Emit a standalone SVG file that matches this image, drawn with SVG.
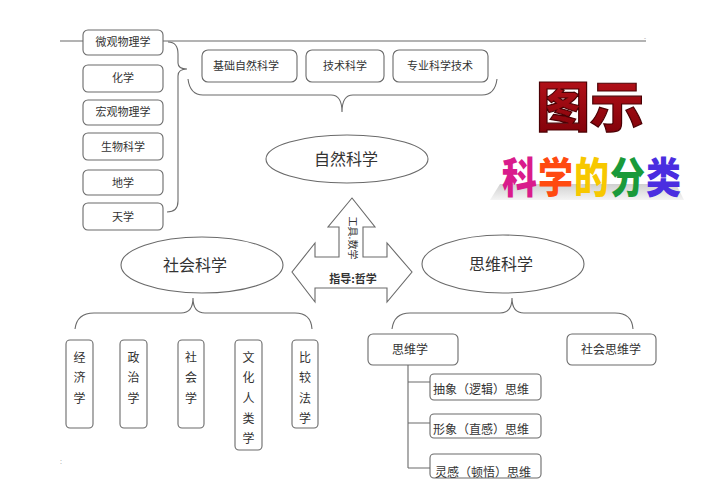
<svg xmlns="http://www.w3.org/2000/svg" width="708" height="500" viewBox="0 0 708 500">
<defs>
<style>
.box{fill:#fff;stroke:#6a6a6a;stroke-width:1.1}
.ln{fill:none;stroke:#6a6a6a;stroke-width:1.1}
.t{font-family:"Noto Sans CJK SC","Liberation Sans",sans-serif;fill:#333;text-anchor:middle}
.s{font-size:11px}
.m{font-size:12px}
.l{font-size:16px}
.rb{font-family:"Noto Sans CJK SC",sans-serif;font-weight:900;font-size:35px}
</style>
<linearGradient id="red" x1="0" y1="0" x2="0" y2="1">
<stop offset="0" stop-color="#c0141c"/>
<stop offset="1" stop-color="#7a0008"/>
</linearGradient>
<linearGradient id="shadow" x1="0" y1="0" x2="0" y2="1">
<stop offset="0" stop-color="#d0d0d0"/>
<stop offset="1" stop-color="#f4f4f4"/>
</linearGradient>
</defs>
<rect width="708" height="500" fill="#fff"/>
<line x1="60" y1="41" x2="646" y2="41" stroke="#9a9a9a" stroke-width="1.5"/>
<text x="644" y="40" style="font-family:'Liberation Sans',sans-serif;font-size:6px;fill:#888">-</text>
<text x="60" y="464" style="font-family:'Liberation Sans',sans-serif;font-size:7px;fill:#888">:</text>

<g id="connectors">
<path class="ln" d="M168,42 Q178,42 178,54 L178,63 Q178,69 187,69 Q178,69 178,76 L178,201 Q178,212 167,212"/>
<path class="ln" d="M188,79 Q190,95 203,95 L331,95 Q342,95 342,112 Q342,95 353,95 L482,95 Q495,95 497,79"/>
<path class="ln" d="M75,329 Q77,313 94,313 L181,313 Q193,313 193,298 Q193,313 205,313 L295,313 Q311,313 312,329"/>
<path class="ln" d="M392,329 Q394,313 410,313 L500,313 Q512,313 512,298 Q512,313 524,313 L615,313 Q632,313 633,329"/>
<path class="ln" d="M408,365 L408,468 M408,382 L430,382 M408,423 L430,423 M408,468 L430,468"/>
</g>

<g id="arrow">
<polygon class="box" points="352,198 375,227 363,227 363,257 387,257 387,243 412,272 387,302 387,288 315,288 315,302 292,272 315,243 315,257 339,257 339,227 328,227"/>
<text class="t" style="font-size:10px" transform="translate(349,238) rotate(90)" text-anchor="middle">工具.数学</text>
<text class="t s" x="353" y="283" font-weight="bold">指导:哲学</text>
</g>

<g id="n-weiguan"><rect class="box" x="83" y="30" width="80" height="25" rx="5"/><text class="t s" x="123" y="46">微观物理学</text></g>
<g id="n-huaxue"><rect class="box" x="83" y="65" width="80" height="27" rx="5"/><text class="t s" x="123" y="82">化学</text></g>
<g id="n-hongguan"><rect class="box" x="83" y="100" width="80" height="25" rx="5"/><text class="t s" x="123" y="116">宏观物理学</text></g>
<g id="n-shengwu"><rect class="box" x="83" y="133" width="80" height="27" rx="5"/><text class="t s" x="123" y="151">生物科学</text></g>
<g id="n-dixue"><rect class="box" x="83" y="170" width="80" height="25" rx="5"/><text class="t s" x="123" y="187">地学</text></g>
<g id="n-tianxue"><rect class="box" x="83" y="203" width="80" height="27" rx="5"/><text class="t s" x="123" y="221">天学</text></g>

<g id="n-jichu"><rect class="box" x="202" y="50" width="95" height="32" rx="6"/><text class="t s" x="246" y="70">基础自然科学</text></g>
<g id="n-jishu"><rect class="box" x="306" y="50" width="78" height="32" rx="6"/><text class="t s" x="345" y="70">技术科学</text></g>
<g id="n-zhuanye"><rect class="box" x="393" y="50" width="95" height="32" rx="6"/><text class="t s" x="440" y="70">专业科学技术</text></g>

<g id="n-ziran"><ellipse class="box" cx="347" cy="159" rx="81" ry="24"/><text class="t l" x="346" y="165">自然科学</text></g>
<g id="n-shehui"><ellipse class="box" cx="202" cy="265" rx="81" ry="28"/><text class="t l" x="195" y="271">社会科学</text></g>
<g id="n-siwei"><ellipse class="box" cx="503" cy="264" rx="81" ry="29"/><text class="t l" x="501" y="270">思维科学</text></g>

<g id="n-jingji"><rect class="box" x="66" y="340" width="27" height="88" rx="4"/><text class="t m" x="79.5" y="362">经</text><text class="t m" x="79.5" y="382">济</text><text class="t m" x="79.5" y="403">学</text></g>
<g id="n-zhengzhi"><rect class="box" x="120" y="340" width="27" height="88" rx="4"/><text class="t m" x="133.5" y="362">政</text><text class="t m" x="133.5" y="382">治</text><text class="t m" x="133.5" y="403">学</text></g>
<g id="n-shehuixue"><rect class="box" x="178" y="340" width="26" height="88" rx="4"/><text class="t m" x="191" y="362">社</text><text class="t m" x="191" y="382">会</text><text class="t m" x="191" y="403">学</text></g>
<g id="n-wenhua"><rect class="box" x="235" y="340" width="27" height="110" rx="4"/><text class="t m" x="248.5" y="362">文</text><text class="t m" x="248.5" y="382">化</text><text class="t m" x="248.5" y="403">人</text><text class="t m" x="248.5" y="423">类</text><text class="t m" x="248.5" y="443">学</text></g>
<g id="n-bijiao"><rect class="box" x="292" y="340" width="26" height="88" rx="4"/><text class="t m" x="305" y="362">比</text><text class="t m" x="305" y="382">较</text><text class="t m" x="305" y="403">法</text><text class="t m" x="305" y="423">学</text></g>

<g id="n-siweixue"><rect class="box" x="368" y="334" width="90" height="31" rx="5"/><text class="t m" x="410" y="354">思维学</text></g>
<g id="n-shehuisiwei"><rect class="box" x="567" y="334" width="89" height="31" rx="5"/><text class="t m" x="611" y="354">社会思维学</text></g>
<g id="n-chouxiang"><rect class="box" x="430" y="374" width="111" height="26" rx="4"/><text class="t m" x="481" y="394">抽象（逻辑）思维</text></g>
<g id="n-xingxiang"><rect class="box" x="430" y="414" width="111" height="24" rx="4"/><text class="t m" x="481" y="434">形象（直感）思维</text></g>
<g id="n-linggan"><rect class="box" x="430" y="454" width="111" height="24" rx="4"/><text class="t m" x="483" y="477">灵感（顿悟）思维</text></g>

<g id="title">
<text x="590" y="127" style="font-family:'Noto Sans CJK SC',sans-serif;font-weight:900;font-size:54px;text-anchor:middle;fill:url(#red);stroke:#4a0004;stroke-width:1.2">图示</text>
<polygon points="500,184 676,184 684,200 490,200" fill="url(#shadow)"/>
<g transform="translate(502,193) scale(1,1.2)">
<text class="rb" x="0" y="0" fill="#d91c8c">科</text>
<text class="rb" x="36" y="0" fill="#ff4a10">学</text>
<text class="rb" x="72" y="0" fill="#f7c800">的</text>
<text class="rb" x="108" y="0" fill="#1a9a3a">分</text>
<text class="rb" x="144" y="0" fill="#4a2ee0">类</text>
</g>
</g>
</svg>
